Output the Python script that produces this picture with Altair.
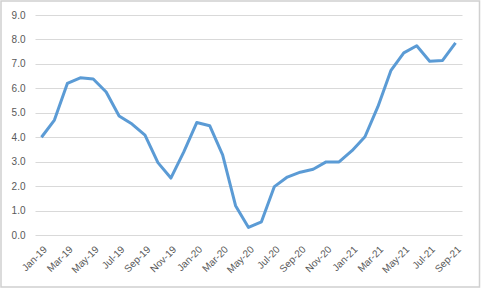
import altair as alt
import pandas as pd

months = ["Jan-19","Feb-19","Mar-19","Apr-19","May-19","Jun-19","Jul-19","Aug-19","Sep-19","Oct-19","Nov-19","Dec-19",
          "Jan-20","Feb-20","Mar-20","Apr-20","May-20","Jun-20","Jul-20","Aug-20","Sep-20","Oct-20","Nov-20","Dec-20",
          "Jan-21","Feb-21","Mar-21","Apr-21","May-21","Jun-21","Jul-21","Aug-21","Sep-21"]
values = [4.0, 4.7, 6.2, 6.43, 6.38, 5.85, 4.87, 4.54, 4.09, 2.96, 2.33, 3.4,
          4.6, 4.47, 3.28, 1.2, 0.31, 0.54, 1.98, 2.37, 2.57, 2.69, 2.99, 2.99,
          3.45, 4.02, 5.25, 6.72, 7.45, 7.74, 7.11, 7.14, 7.86]
shown_labels = months[::2]

df = pd.DataFrame({"month": months, "value": values})

W, H = 427, 220
PL, PT = 35, 15
PR, PB = 481 - PL - W, 289 - PT - H

line = alt.Chart(df).mark_line(color="#5B9BD5", strokeWidth=3, strokeJoin="round").encode(
    x=alt.X("month:O", sort=months, title=None,
            scale=alt.Scale(type="point", padding=0.5),
            axis=alt.Axis(values=shown_labels, labelAngle=-45, labelAlign="right", labelBaseline="top",
                          ticks=False, domain=False, grid=False, labelPadding=9,
                          labelColor="#595959", labelFontSize=10, labelFont="Liberation Sans")),
    y=alt.Y("value:Q", title=None,
            scale=alt.Scale(domain=[0, 9], nice=False),
            axis=alt.Axis(values=list(range(0, 10)), format=".1f", ticks=False, domain=False,
                          gridColor="#d9d9d9", gridWidth=1, labelPadding=10,
                          labelColor="#595959", labelFontSize=10, labelFont="Liberation Sans")),
)

border = alt.Chart(pd.DataFrame({"a": [0]})).mark_rect(
    filled=False, fill="transparent", stroke="#d0d0d0", strokeWidth=1.5, clip=False
).encode(
    x=alt.value(-PL + 1), x2=alt.value(W + PR - 1.5),
    y=alt.value(-PT + 1), y2=alt.value(H + PB - 2),
)

chart = alt.layer(line, border).properties(
    width=W, height=H,
    autosize=alt.AutoSizeParams(type="none"),
    padding={"left": PL, "top": PT, "right": PR, "bottom": PB},
    background="white",
).configure_view(stroke=None)

chart.save("out.html", embed_options={"renderer": "svg", "actions": False})
